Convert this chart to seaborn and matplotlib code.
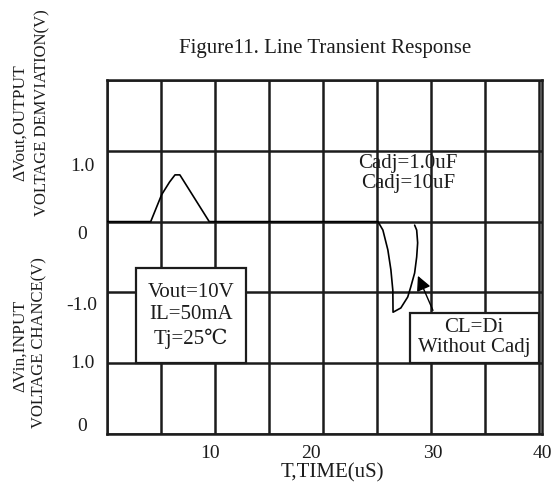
import matplotlib
matplotlib.use("Agg")
import matplotlib.pyplot as plt
import numpy as np
import seaborn as sns
from matplotlib.patches import Rectangle

# Datos (tiempo en uS, desviación de salida en V)
tiempo_pico = [0, 4.05, 5.06, 5.8, 6.3, 6.75, 9.47, 25.1]
salida_pico = [0, 0, 0.38, 0.56, 0.66, 0.66, 0, 0]

tiempo_lazo = [25.1, 25.56, 26.02, 26.3, 26.48, 26.5, 27.22, 27.86, 28.14,
               28.5, 28.69, 28.78, 28.69, 28.5]
salida_lazo = [0, -0.12, -0.40, -0.68, -0.97, -1.28, -1.22, -1.065, -0.924,
               -0.726, -0.50, -0.30, -0.12, -0.05]

# Etiquetas de ejes
etiquetas_x = ["10", "20", "30", "40"]
pos_etiquetas_x = [9.5, 18.85, 30.2, 40.3]
etiquetas_y = ["0", "1.0", "-1.0", "0", "1.0"]
pos_etiquetas_y = [0.13, 1.02, 1.85, 2.84, 3.80]

CERO_SALIDA = 3  # fila de la cuadrícula donde está el 0 de la salida
TINTA = "#1c1c1c"

sns.set_style("white")
plt.rcParams["font.family"] = ["Liberation Serif", "DejaVu Serif", "DejaVu Sans"]
plt.rcParams["text.color"] = TINTA

fig = plt.figure(figsize=(5.54, 4.96), dpi=100)
ax = fig.add_axes([107 / 554, 62 / 496, 435 / 554, 354 / 496])

sns.lineplot(x=tiempo_pico, y=np.array(salida_pico) + CERO_SALIDA, ax=ax,
             sort=False, estimator=None, color="black", lw=1.2, zorder=3)
sns.lineplot(x=tiempo_lazo, y=np.array(salida_lazo) + CERO_SALIDA, ax=ax,
             sort=False, estimator=None, color="black", lw=1.2, zorder=3)

ax.set_xlim(0, 40)
ax.set_ylim(0, 5)
ax.set_xticks(np.arange(0, 41, 5), minor=True)
ax.set_yticks(np.arange(0, 6, 1), minor=True)
ax.grid(which="minor", color=TINTA, lw=1.8)
ax.grid(which="major", visible=False)
ax.set_xticks(pos_etiquetas_x, etiquetas_x)
ax.set_yticks(pos_etiquetas_y, etiquetas_y)
ax.tick_params(which="both", length=0, labelcolor=TINTA)
ax.tick_params(axis="x", pad=8, labelsize=14)
ax.tick_params(axis="y", pad=18, labelsize=14)
for t in ax.get_yticklabels():
    t.set_ha("center")
for s in ax.spines.values():
    s.set_color(TINTA)
    s.set_linewidth(1.8)

# Cuadros de texto
ax.add_patch(Rectangle((2.67, 1.0), 10.2, 1.35, facecolor="white",
                       edgecolor=TINTA, lw=1.6, zorder=4))
ax.text(7.77, 1.67, "Vout=10V\nIL=50mA\nTj=25℃", ha="center", va="center",
        fontsize=15, linespacing=1.25, zorder=5)
ax.add_patch(Rectangle((28.05, 1.0), 11.95, 0.71, facecolor="white",
                       edgecolor=TINTA, lw=1.6, zorder=4))
ax.text(34.0, 1.36, "CL=Di\nWithout Cadj", ha="center", va="center",
        fontsize=15, linespacing=1.1, zorder=5)
ax.text(27.9, 3.68, "Cadj=1.0uF\nCadj=10uF", ha="center", va="center",
        fontsize=15, linespacing=1.1, zorder=2)

ax.annotate("", xy=(28.7, 2.27), xytext=(30.3, 1.71),
            arrowprops=dict(arrowstyle="-|>", color="black", lw=1.0,
                            mutation_scale=22), zorder=6)

fig.text(325 / 554, 1 - 48 / 496, "Figure11. Line Transient Response",
         ha="center", va="center", fontsize=15)
fig.text(332 / 554, 1 - 473 / 496, "T,TIME(uS)", ha="center", va="center",
         fontsize=15)
fig.text(20 / 554, 1 - 123 / 496, "ΔVout,OUTPUT", rotation=90,
         ha="center", va="center", fontsize=12.5)
fig.text(42 / 554, 1 - 113 / 496, "VOLTAGE DEMVIATION(V)", rotation=90,
         ha="center", va="center", fontsize=12)
fig.text(20 / 554, 1 - 346 / 496, "ΔVin,INPUT", rotation=90,
         ha="center", va="center", fontsize=12.5)
fig.text(39 / 554, 1 - 343 / 496, "VOLTAGE CHANCE(V)", rotation=90,
         ha="center", va="center", fontsize=12)

fig.savefig("out.png", dpi=100)
